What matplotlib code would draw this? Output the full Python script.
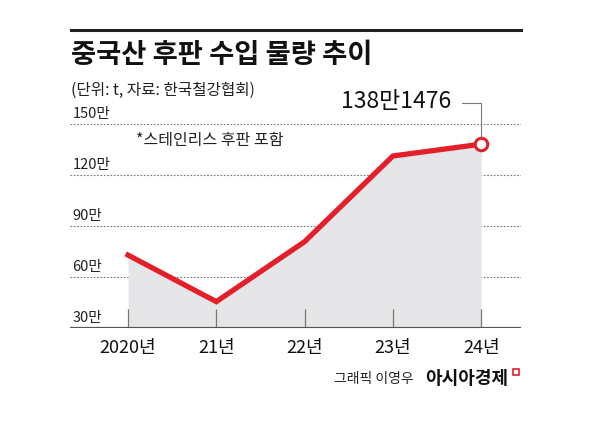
import matplotlib
matplotlib.use('Agg')
import matplotlib.pyplot as plt
from matplotlib.lines import Line2D

plt.rcParams['font.family'] = ['Noto Sans CJK KR', 'DejaVu Sans']

# ---------------------------------------------------------------
# data (unit: 만 t)
# ---------------------------------------------------------------
years = ['2020년', '21년', '22년', '23년', '24년']
imports = [72.9, 45.5, 80.8, 131.2, 138.1476]
ytick_vals = [30, 60, 90, 120, 150]
ytick_labels = ['30만', '60만', '90만', '120만', '150만']
last_label = '138만1476'

title = '중국산 후판 수입 물량 추이'
subtitle = '(단위: t, 자료: 한국철강협회)'
note = '*스테인리스 후판 포함'

RED = '#e3202a'
W, H = 600, 426


def fx(px):
    return px / W


def fy(py):
    return 1 - py / H


fig = plt.figure(figsize=(6, 4.26), dpi=100)
ax = fig.add_axes([fx(70), fy(328), fx(521) - fx(70), fy(124) - fy(328)])

xs = list(range(len(years)))
ax.set_xlim(-0.657, 4.45)
ax.set_ylim(30, 150)

# grey area under the line
ax.fill_between(xs, imports, 30, color='#e6e6e9', lw=0, zorder=1)

# dotted grid lines + labels
for v, lab in zip(ytick_vals, ytick_labels):
    if v > 30:
        ax.axhline(v, color='#777777', lw=0.8, ls=(0, (1.5, 1.5)), zorder=0.5)
    ax.text(0.005, v + 2.0, lab, transform=ax.get_yaxis_transform(),
            fontsize=10.5, color='#222222', ha='left', va='bottom')
ax.axhline(30, color='#555555', lw=1.6, zorder=3)

# small tick marks
ax.vlines(xs, 30, 41, color='#777777', lw=0.9, zorder=2)

# line
ax.plot(xs, imports, color=RED, lw=3.8, solid_joinstyle='miter', zorder=4)
ax.plot(xs[-1], imports[-1], 'o', ms=9, mfc='white', mec=RED, mew=2.2, zorder=5)

for x, lab in zip(xs, years):
    ax.text(x, 30 - 6.5, lab, ha='center', va='top', fontsize=13, color='#111111')

ax.axis('off')

# annotation of last value
fig.text(fx(396), fy(102), last_label, ha='center', va='center',
         fontsize=16.5, fontweight='medium', color='#111111')
fig.add_artist(Line2D([fx(462), fx(481), fx(481)], [fy(103), fy(103), fy(137)],
                      transform=fig.transFigure, color='#777777', lw=0.8))

# top rule, title, subtitle, note
fig.add_artist(Line2D([fx(71), fx(521)], [fy(30), fy(30)],
                      transform=fig.transFigure, color='#222222', lw=2.2))
fig.text(fx(71), fy(55), title, ha='left', va='center', fontsize=19.7,
         fontweight='heavy', color='#111111')
fig.text(fx(71), fy(90), subtitle, ha='left', va='center', fontsize=11.3,
         color='#222222')
fig.text(fx(136), fy(140), note, ha='left', va='center', fontsize=11.5,
         color='#222222')

# credit
fig.text(fx(508), fy(379), '아시아경제', ha='right', va='center', fontsize=13,
         fontweight='bold', color='#111111')
fig.text(fx(414), fy(379), '그래픽 이영우', ha='right', va='center', fontsize=10,
         color='#222222')
fig.add_artist(Line2D([fx(516)], [fy(372)], transform=fig.transFigure,
                      marker='s', ms=4, mfc='white', mec=RED, mew=1.2))

fig.savefig('out.png', dpi=100, facecolor='white')
